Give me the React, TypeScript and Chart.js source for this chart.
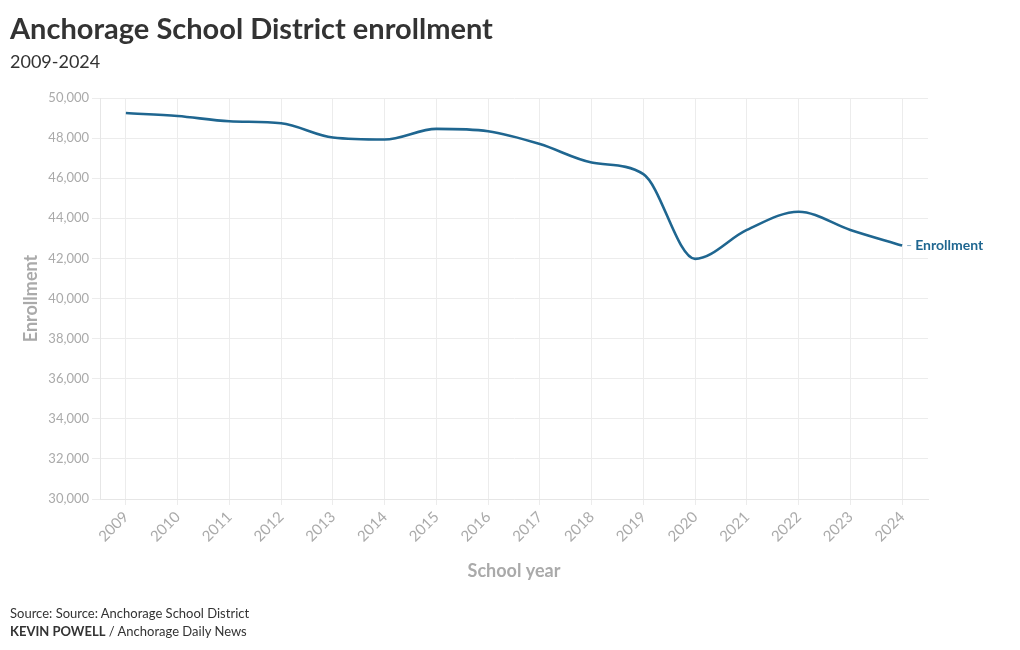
import React, { useEffect, useRef } from "react";
import { Chart, registerables } from "chart.js";

Chart.register(...registerables);

const years = ["2009", "2010", "2011", "2012", "2013", "2014", "2015", "2016", "2017", "2018", "2019", "2020", "2021", "2022", "2023", "2024"];
const enrollment = [49250, 49100, 48840, 48740, 48030, 47930, 48460, 48340, 47700, 46780, 46200, 41975, 43420, 44330, 43420, 42640];
const seriesLabel = "Enrollment";
const yMin = 30000;
const yMax = 50000;
const yStep = 2000;

const FONT = "Lato, 'Noto Sans', sans-serif";
const LINE_COLOR = "#1f6690";

const endLabelPlugin = {
  id: "endLabel",
  afterDatasetsDraw(chart: any) {
    const meta = chart.getDatasetMeta(0);
    const pt = meta.data[meta.data.length - 1];
    if (!pt) return;
    const ctx = chart.ctx;
    ctx.save();
    ctx.strokeStyle = "rgba(31,102,144,0.5)";
    ctx.lineWidth = 1;
    ctx.beginPath();
    ctx.moveTo(pt.x + 5, pt.y);
    ctx.lineTo(pt.x + 9, pt.y);
    ctx.stroke();
    ctx.fillStyle = LINE_COLOR;
    ctx.font = `bold 14px ${FONT}`;
    ctx.textBaseline = "middle";
    ctx.textAlign = "left";
    ctx.fillText(chart.data.datasets[0].label, pt.x + 13, pt.y);
    ctx.restore();
  },
};

export default function App() {
  const ref = useRef<HTMLCanvasElement>(null);

  useEffect(() => {
    document.body.style.margin = "0";
    const chart = new Chart(ref.current!, {
      type: "line",
      data: {
        labels: years,
        datasets: [
          {
            label: seriesLabel,
            data: enrollment,
            borderColor: LINE_COLOR,
            borderWidth: 2.6,
            pointRadius: 0,
            cubicInterpolationMode: "monotone",
            fill: false,
          },
        ],
      },
      options: {
        animation: false,
        responsive: false,
        devicePixelRatio: 1,
        layout: { padding: { top: 98, left: 16, right: 92, bottom: 64 } },
        plugins: {
          legend: { display: false },
          tooltip: { enabled: false },
        },
        scales: {
          x: {
            offset: true,
            grid: { color: "#ececec", tickLength: 6, offset: false },
            border: { color: "#e6e6e6" },
            ticks: {
              color: "#aaaaaa",
              font: { family: FONT, size: 15 },
              maxRotation: 45,
              minRotation: 45,
              autoSkip: false,
              padding: 3,
            },
            title: {
              display: true,
              text: "School year",
              color: "#aaaaaa",
              font: { family: FONT, size: 18, weight: "bold" },
            },
            afterFit: (s: any) => {
              s.height = 87;
            },
          },
          y: {
            min: yMin,
            max: yMax,
            grid: { color: "#ececec", tickLength: 8 },
            border: { color: "#e6e6e6" },
            ticks: {
              stepSize: yStep,
              color: "#aaaaaa",
              font: { family: FONT, size: 13 },
              padding: 3,
              callback: (v: any) => Number(v).toLocaleString("en-US"),
            },
            title: {
              display: true,
              text: "Enrollment",
              color: "#aaaaaa",
              font: { family: FONT, size: 18, weight: "bold" },
            },
            afterFit: (s: any) => {
              s.width = 84;
            },
          },
        },
      },
      plugins: [endLabelPlugin],
    });
    return () => chart.destroy();
  }, []);

  return (
    <div style={{ position: "relative", width: 1020, height: 650, background: "#fff", fontFamily: FONT, overflow: "hidden" }}>
      <canvas ref={ref} width={1020} height={650} style={{ position: "absolute", left: 0, top: 0 }} />
      <div style={{ position: "absolute", left: 10, top: 10, fontSize: 29, fontWeight: 700, color: "#333333", lineHeight: "36px" }}>
        Anchorage School District enrollment
      </div>
      <div style={{ position: "absolute", left: 10, top: 49, fontSize: 18, color: "#333333", lineHeight: "24px" }}>
        2009-2024
      </div>
      <div style={{ position: "absolute", left: 10, top: 604, fontSize: 13, color: "#333333", lineHeight: "18px" }}>
        Source: Source: Anchorage School District
      </div>
      <div style={{ position: "absolute", left: 10, top: 622, fontSize: 13, color: "#333333", lineHeight: "18px" }}>
        <b>KEVIN POWELL</b> / Anchorage Daily News
      </div>
    </div>
  );
}
